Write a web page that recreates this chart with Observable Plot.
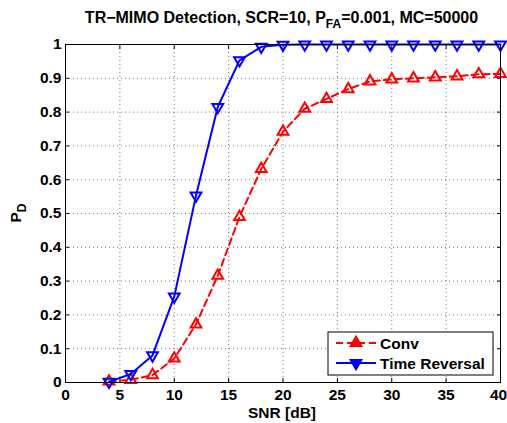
<!DOCTYPE html>
<html><head><meta charset="utf-8">
<script src="https://cdn.jsdelivr.net/npm/d3@7"></script>
<script src="https://cdn.jsdelivr.net/npm/@observablehq/plot@0.6"></script>
<style>
body{margin:0;background:#fff;}
svg{font-family:"Liberation Sans",Arial,sans-serif;}
</style></head>
<body><div id="chart"></div>
<script>
const snr = [4,6,8,10,12,14,16,18,20,22,24,26,28,30,32,34,36,38,40];
const conv = [0.003,0.008,0.022,0.071,0.172,0.316,0.49,0.632,0.742,0.81,0.839,0.868,0.891,0.897,0.9,0.903,0.906,0.912,0.913];
const timeReversal = [0.002,0.025,0.08,0.254,0.553,0.815,0.953,0.993,0.999,1,1,1,1,1,1,1,1,1,1];
const xTicks = [0,5,10,15,20,25,30,35,40];
const yTicks = [0,0.1,0.2,0.3,0.4,0.5,0.6,0.7,0.8,0.9,1];
const seriesNames = ["Conv","Time Reversal"];

const dConv = snr.map((s,i)=>({snr:s, pd:conv[i]}));
const dTR = snr.map((s,i)=>({snr:s, pd:timeReversal[i]}));

const W=507, H=423;
const FS = 15.5;
const xLabelOpts = {anchor: "bottom", tickSize: 0, tickPadding: 8, tickFormat: d=>String(d), fontSize: FS, fontWeight: "bold", lineAnchor: "top", dy: -2};
const plot = Plot.plot({
  width: W, height: H,
  marginLeft: 65, marginRight: 7, marginTop: 44, marginBottom: 41,
  style: {fontFamily: "'Liberation Sans', Arial, sans-serif", fontSize: FS+"px", fontWeight: "bold", background: "#fff", color: "#000"},
  x: {domain: [0,40], label: null},
  y: {domain: [0,1], label: null},
  marks: [
    Plot.gridX(xTicks.slice(1,-1), {stroke: "#555", strokeOpacity: 1, strokeDasharray: "1,3", strokeWidth: 0.8}),
    Plot.gridY(yTicks.slice(1,-1), {stroke: "#555", strokeOpacity: 1, strokeDasharray: "1,3", strokeWidth: 0.8}),
    Plot.axisX(xTicks.slice(0,-1), xLabelOpts),
    Plot.axisX(xTicks.slice(-1), {...xLabelOpts, dx: -2}),
    Plot.axisY(yTicks, {anchor: "left", tickSize: 0, tickPadding: 4, tickFormat: d=>String(d), fontSize: FS, fontWeight: "bold"}),
    Plot.axisX(xTicks, {anchor: "bottom", tickSize: -4, tickFormat: ()=>""}),
    Plot.axisX(xTicks, {anchor: "top", tickSize: -4, tickFormat: ()=>""}),
    Plot.axisY(yTicks, {anchor: "left", tickSize: -4, tickFormat: ()=>""}),
    Plot.axisY(yTicks, {anchor: "right", tickSize: -4, tickFormat: ()=>""}),
    Plot.line(dConv, {x:"snr", y:"pd", stroke:"#ff0000", strokeWidth:2, strokeDasharray:"7,4"}),
    Plot.dot(dConv, {x:"snr", y:"pd", symbol:"triangle", r:4, stroke:"#ff0000", strokeWidth:2, fill:"none"}),
    Plot.line(dTR, {x:"snr", y:"pd", stroke:"#0000ff", strokeWidth:2}),
    Plot.dot(dTR, {x:"snr", y:"pd", symbol:"triangle", rotate:180, r:4, stroke:"#0000ff", strokeWidth:2, fill:"none"}),
    Plot.frame({stroke:"#000", strokeWidth:1})
  ]
});
document.getElementById("chart").appendChild(plot);

const svg = d3.select(plot);
const font = "'Liberation Sans', Arial, sans-serif";
// title
const t = svg.append("text").attr("x", 281.5).attr("y", 23).attr("text-anchor","middle")
  .style("font-family", font).style("font-size","16px").style("font-weight","bold").attr("fill","#000");
t.append("tspan").text("TR\u2212MIMO Detection, SCR=10, P");
t.append("tspan").attr("dy",5).style("font-size","12px").text("FA");
t.append("tspan").attr("dy",-5).text("=0.001, MC=50000");
// x label
svg.append("text").attr("x", 282).attr("y", 418).attr("text-anchor","middle")
  .style("font-family", font).style("font-size",FS+"px").style("font-weight","bold").text("SNR [dB]");
// y label
const yl = svg.append("text").attr("transform","translate(21,213) rotate(-90)").attr("text-anchor","middle")
  .style("font-family", font).style("font-size",FS+"px").style("font-weight","bold");
yl.append("tspan").text("P");
yl.append("tspan").attr("dy",5).style("font-size","12px").text("D");

// legend
const lg = svg.append("g").attr("text-anchor","start");
lg.append("rect").attr("x",328).attr("y",332).attr("width",165).attr("height",43).attr("fill","#fff").attr("stroke","#000").attr("stroke-width",1);
const entries = [
  {name: seriesNames[0], color:"#ff0000", dash:"7,4", rot:0, y:343},
  {name: seriesNames[1], color:"#0000ff", dash:null, rot:180, y:363}
];
entries.forEach(e=>{
  lg.append("line").attr("x1",336).attr("x2",376).attr("y1",e.y).attr("y2",e.y).attr("stroke",e.color).attr("stroke-width",2).attr("stroke-dasharray",e.dash);
  lg.append("path").attr("d", d3.symbol(d3.symbolTriangle, Math.PI*16)()).attr("transform",`translate(356,${e.y}) rotate(${e.rot})`).attr("fill",e.color).attr("stroke",e.color).attr("stroke-width",2);
  lg.append("text").attr("x",380).attr("y",e.y+5.5).attr("text-anchor","start").style("font-family",font).style("font-size",FS+"px").style("font-weight","bold").text(e.name);
});
</script></body></html>
